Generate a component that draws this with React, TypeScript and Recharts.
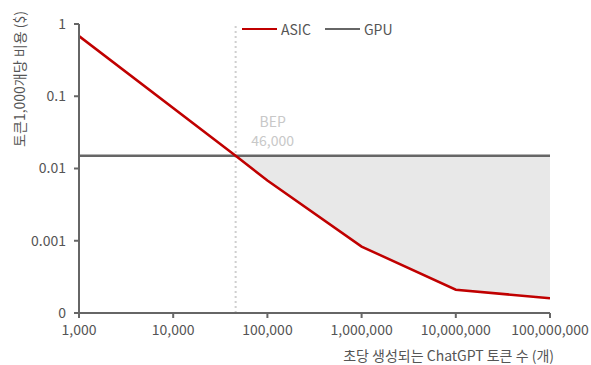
import React from "react";
import { ComposedChart, Line, Area, XAxis, YAxis, ReferenceLine } from "recharts";

const tokensPerSec = [1000, 46000, 100000, 1000000, 10000000, 100000000];
const asicCost = [0.68, 0.015, 0.0068, 0.00083, 0.00021, 0.00016];
const gpuCost = [0.015, 0.015, 0.015, 0.015, 0.015, 0.015];
const bepX = 46000;
const xTicks = [1000, 10000, 100000, 1000000, 10000000, 100000000];
const yTicks = [0.0001, 0.001, 0.01, 0.1, 1];
const yTickLabels = ["0", "0.001", "0.01", "0.1", "1"];
const seriesNames = ["ASIC", "GPU"];

const data = tokensPerSec.map((x, i) => ({
  x,
  asic: asicCost[i],
  gpu: gpuCost[i],
  band: x >= bepX ? [asicCost[i], gpuCost[i]] : null,
}));

const FONT = "'Noto Sans CJK KR', 'Noto Sans', sans-serif";
const RED = "#c00000";
const GRAY = "#666666";
const TEXT = "#555555";
const seriesColors = [RED, GRAY];

const BepLabel = (props: any) => {
  const vb = props.viewBox || {};
  const cx = (vb.x || 0) + 37;
  return (
    <g>
      <text x={cx} y={127} textAnchor="middle" fill="#c8c8c8" fontSize={14} fontFamily={FONT}>BEP</text>
      <text x={cx} y={146} textAnchor="middle" fill="#c8c8c8" fontSize={14} fontFamily={FONT}>46,000</text>
    </g>
  );
};

const YLabel = () => (
  <text x={0} y={0} transform="translate(25, 79) rotate(-90)" textAnchor="middle" fill={TEXT} fontSize={14} fontFamily={FONT}>
    토큰1,000개당 비용 ($)
  </text>
);

export default function App() {
  return (
    <div style={{ position: "absolute", left: 0, top: 0, width: 591, height: 365, background: "#fff" }}>
      <ComposedChart width={591} height={365} data={data} margin={{ top: 24, right: 41, bottom: 0, left: 0 }}>
        <XAxis
          dataKey="x"
          type="number"
          scale="log"
          domain={[1000, 100000000]}
          ticks={xTicks}
          tickFormatter={(v: number) => v.toLocaleString("en-US")}
          height={52}
          stroke={GRAY}
          strokeWidth={2}
          tickSize={5}
          tick={{ fill: TEXT, fontSize: 14, fontFamily: FONT, dy: 5 }}
          allowDataOverflow
          label={{ value: "초당 생성되는 ChatGPT 토큰 수 (개)", position: "insideBottomRight", offset: 4, dx: 8, fill: TEXT, fontSize: 14, fontFamily: FONT }}
        />
        <YAxis
          type="number"
          scale="log"
          domain={[0.0001, 1]}
          ticks={yTicks}
          tickFormatter={(v: number) => yTickLabels[yTicks.findIndex((t) => Math.abs(t - v) < t * 0.01)] ?? String(v)}
          width={79}
          stroke={GRAY}
          strokeWidth={2}
          tickSize={5}
          tick={{ fill: TEXT, fontSize: 14, fontFamily: FONT, dx: -6 }}
          allowDataOverflow
          label={<YLabel />}
        />
        <Area
          dataKey="band"
          type="linear"
          stroke="none"
          fill="#e8e8e8"
          fillOpacity={1}
          isAnimationActive={false}
          legendType="none"
          activeDot={false}
        />
        <ReferenceLine x={bepX} stroke="#cfcfcf" strokeWidth={2} strokeDasharray="2 3" label={<BepLabel />} />
        <Line dataKey="gpu" name="GPU" type="linear" stroke={GRAY} strokeWidth={2.5} dot={false} isAnimationActive={false} />
        <Line dataKey="asic" name="ASIC" type="linear" stroke={RED} strokeWidth={2.5} dot={false} isAnimationActive={false} />
      </ComposedChart>
      <div style={{ position: "absolute", left: 242, top: 19, display: "flex", fontFamily: FONT, fontSize: 14, color: TEXT, lineHeight: "20px" }}>
        {seriesNames.map((n, i) => (
          <div key={n} style={{ display: "flex", alignItems: "center", marginRight: 14 }}>
            <div style={{ width: 35, height: 2.5, background: seriesColors[i], marginRight: 4 }} />
            <span>{n}</span>
          </div>
        ))}
      </div>
    </div>
  );
}
